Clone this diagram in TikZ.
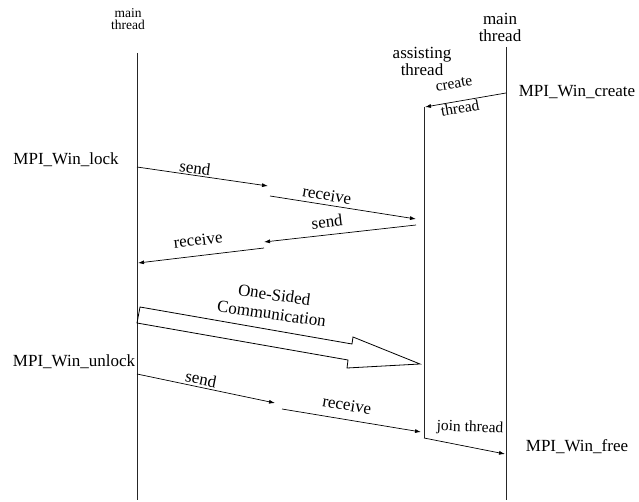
\documentclass[tikz,border=0pt]{standalone}
\usepackage{fontspec}
\setmainfont{Liberation Serif}
\usetikzlibrary{arrows.meta}
\begin{document}
\begin{tikzpicture}[x=1pt,y=-1pt,
  lbl/.style={inner sep=0pt,font=\fontsize{17}{19}\selectfont},
  sml/.style={inner sep=0pt,font=\fontsize{15.5}{17}\selectfont},
  tiny/.style={inner sep=0pt,align=center,font=\fontsize{13.5}{15}\selectfont},
  life/.style={line width=0.8pt,draw=black!85},
  msg/.style={line width=0.7pt,-{Latex[length=6pt,width=4pt]}},
]
\useasboundingbox (0,0) rectangle (639,502);
% lifelines
\coordinate (LT) at (137.5,53);
\coordinate (LB) at (137.5,500);
\coordinate (RT) at (506,47);
\coordinate (RB) at (506,500);
\draw[life] (LT) -- (LB);
\draw[life] (RT) -- (RB);
% headers
\node[tiny] (lhead) at (128,19) {main\\[-3pt]thread};
\node[lbl,align=center] (rhead) at (500,27) {main\\[-2pt]thread};
\node[lbl,align=center] (ahead) at (422,61) {assisting\\[-2pt]thread};
% create
\coordinate (c0) at (506,93);
\coordinate (c1) at (425,107);
\coordinate (aT) at (424,107);
\coordinate (aB) at (424,438);
\draw[msg] (c0) -- (c1);
\draw[life] (aT) -- (aB);
\node[sml,rotate=10] (tcreate) at (454,84) {create};
\node[sml,rotate=10] (tthread) at (460,108) {thread};
\node[lbl] (wcreate) at (577,92) {MPI\_Win\_create};
% lock
\node[lbl] (wlock) at (66,160) {MPI\_Win\_lock};
\coordinate (s1a) at (137,167);
\coordinate (s1b) at (268,186);
\coordinate (r1a) at (270,196);
\coordinate (r1b) at (416,219);
\coordinate (s2a) at (416,225);
\coordinate (s2b) at (264,242);
\coordinate (r2a) at (264,248);
\coordinate (r2b) at (138,263);
\draw[msg] (s1a) -- (s1b);
\draw[msg] (r1a) -- (r1b);
\draw[msg] (s2a) -- (s2b);
\draw[msg] (r2a) -- (r2b);
\node[lbl,rotate=-8] (t1) at (195,168) {send};
\node[lbl,rotate=-9] (t2) at (327,195) {receive};
\node[lbl,rotate=6.5] (t3) at (327,222) {send};
\node[lbl,rotate=7] (t4) at (198,240) {receive};
% one-sided
\draw[line width=0.8pt] (140,307) -- (352,344) -- (353,337) -- (420,364) -- (347,368) -- (348,360) -- (137,323) -- cycle;
\node[lbl,rotate=-8,align=center] (os) at (273,304) {One-Sided\\Communication};
% unlock
\node[lbl] (wunlock) at (74,362) {MPI\_Win\_unlock};
\coordinate (s3a) at (137,374);
\coordinate (s3b) at (275,403);
\coordinate (r3a) at (282,409);
\coordinate (r3b) at (421,432);
\draw[msg] (s3a) -- (s3b);
\draw[msg] (r3a) -- (r3b);
\node[lbl,rotate=-11] (t5) at (201,379) {send};
\node[lbl,rotate=-9] (t6) at (347,405) {receive};
% join
\coordinate (j1) at (505,454);
\draw[msg] (aB) -- (j1);
\node[sml,rotate=-2] (tjoin) at (470,428) {join thread};
\node[lbl] (wfree) at (577,447) {MPI\_Win\_free};
\end{tikzpicture}
\end{document}
